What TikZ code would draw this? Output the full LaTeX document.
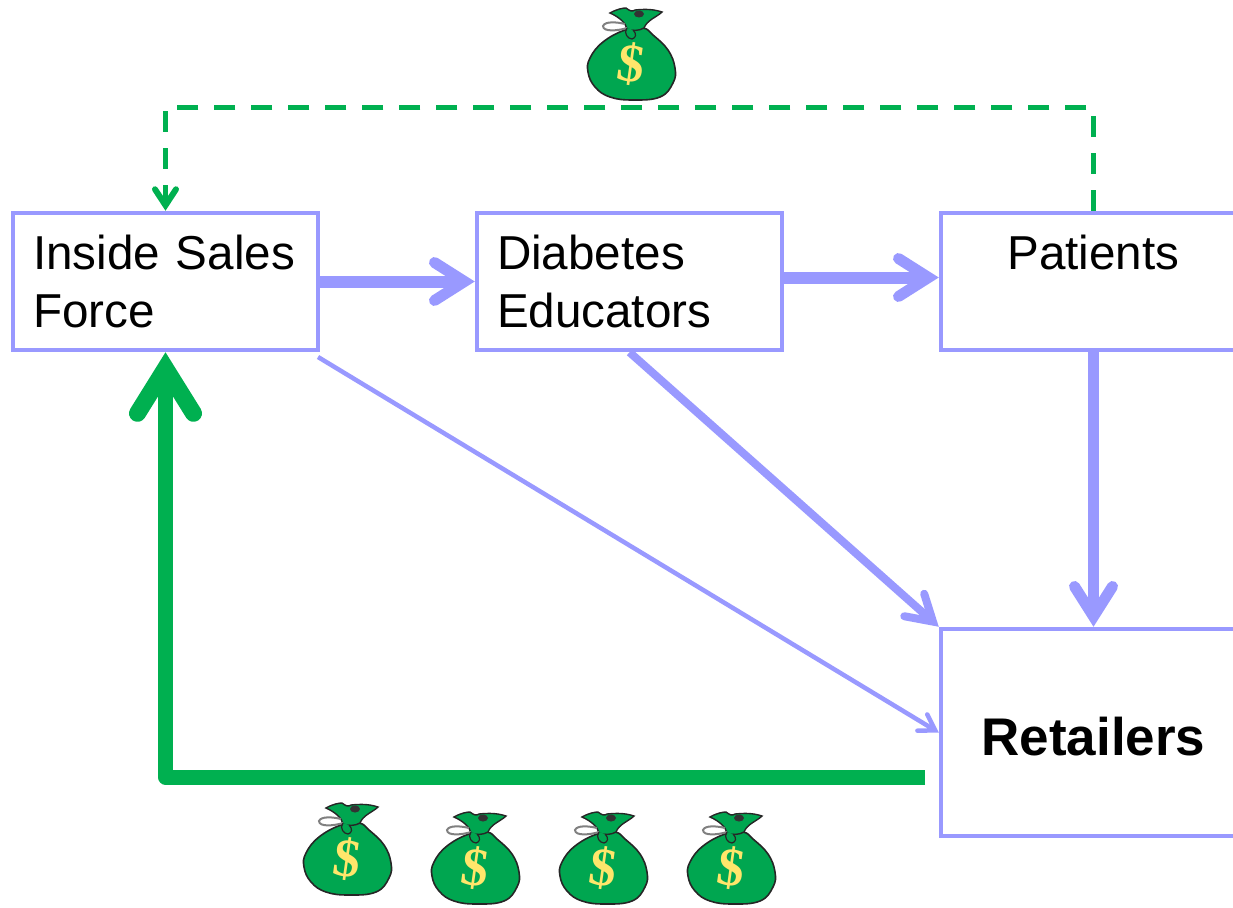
\documentclass[tikz,border=0pt]{standalone}
\usepackage{xcolor}
\usepackage{fontspec}
\usepackage{tikz}
\usetikzlibrary{arrows.meta}
\setmainfont{Liberation Sans}
\newfontfamily\dollarfont{Liberation Serif}
\definecolor{boxblue}{HTML}{9999FF}
\definecolor{cashgreen}{HTML}{00B050}
\definecolor{baggreen}{HTML}{00A650}
\definecolor{dollaryellow}{HTML}{FFE66B}
\tikzset{
  flowbox/.style={draw=boxblue, line width=4.5pt, minimum width=305pt, minimum height=137pt,
    inner sep=0pt, text width=265pt, font=\fontsize{47.6}{58}\selectfont},
  flowhead/.style n args={3}{-{Straight Barb[length=#1, width=#2, line width=#3, line cap=round, line join=miter]}},
  moneybag/.pic={
    \draw[fill=baggreen, draw=black!85, line width=1.6pt] plot[smooth cycle, tension=0.7] coordinates
      {(-6,-25) (-28,-13) (-41,3) (-43,17) (-36,32) (-21,42) (2,45) (29,42) (42,28) (44,13) (37,-5) (22,-20) (12,-27)};
    \fill[baggreen, draw=black!85, line width=1.4pt]
      (-4,-26) .. controls (-5,-32) and (-12,-38) .. (-21,-42)
      .. controls (-14,-46) and (-8,-47) .. (-5,-47)
      .. controls (-1,-44) and (1,-43) .. (4,-45)
      .. controls (14,-46) and (22,-46) .. (31,-43)
      .. controls (26,-38) and (16,-35) .. (13,-27)
      .. controls (8,-24) and (1,-24) .. (-4,-26) -- cycle;
    \fill[black!80] (8,-41) ellipse (5pt and 3.5pt);
    \draw[black!50, line width=2pt]
      (-6,-31) .. controls (-14,-33) and (-26,-34) .. (-28,-29)
      .. controls (-28,-23) and (-14,-24) .. (-4,-27);
    \draw[black!85, fill=baggreen, line width=1.2pt]
      (-4,-27) .. controls (-8,-22) and (-3,-16) .. (1,-16)
      .. controls (5,-17) and (6,-21) .. (2,-25);
    \node[text=dollaryellow, font=\dollarfont\bfseries\fontsize{54}{54}\selectfont,
      rotate=-8, inner sep=0pt] (-dollar) at (0,9) {\$};
  }
}
\begin{document}
\begin{tikzpicture}[x=1pt, y=-1pt]
    \useasboundingbox (0,0) rectangle (1233,907);
    \node[flowbox, align=left] (inside) at (165.5,281.5) {Inside Sales\\Force};
    \node[flowbox, align=left] (educators) at (629.5,281.5) {Diabetes\\Educators};
    \node[flowbox, align=center] (patients) at (1093.5,281.5) {Patients\\~};
    \node[flowbox, minimum height=207pt, align=center,
      font=\fontsize{53}{60}\selectfont\bfseries] (retailers) at (1093.5,732.5)
      {\raisebox{0pt}[\dimexpr\height+8pt][\depth]{Retailers}};
    \coordinate (thinstart) at (318,357);
    \coordinate (paystart) at (925,777);
    \coordinate (payturn) at (165.5,777);
    \draw[boxblue, line width=12pt, flowhead={30pt}{38pt}{11pt}] (inside.east) -- (educators.west);
    \draw[boxblue, line width=12pt, flowhead={30pt}{38pt}{11pt}] ([yshift=4pt]educators.east) -- ([yshift=4pt]patients.west);
    \draw[boxblue, line width=10.5pt, flowhead={30pt}{38pt}{11pt}] (patients.south) -- (retailers.north);
    \draw[boxblue, line width=8pt, flowhead={25pt}{30pt}{8pt}] (educators.south) -- (retailers.north west);
    \draw[boxblue, line width=4.5pt, flowhead={15pt}{19pt}{4.5pt}] (thinstart) -- (retailers.west);
    \draw[cashgreen, line width=15pt, line join=round, flowhead={45pt}{56pt}{17pt}] (paystart) -- (payturn) -- (inside.south);
    \draw[cashgreen, line width=5pt, dash pattern=on 21pt off 16pt, flowhead={16pt}{21pt}{6pt}]
      (patients.north) -- (1093.5,107) -- (165.5,107) -- (inside.north);
    \pic (bagtop) at (631,55) {moneybag};
    \foreach \x/\y in {347/850, 475/859, 603/859, 731/859}
      \pic (bag\x) at (\x,\y) {moneybag};
\end{tikzpicture}
\end{document}
